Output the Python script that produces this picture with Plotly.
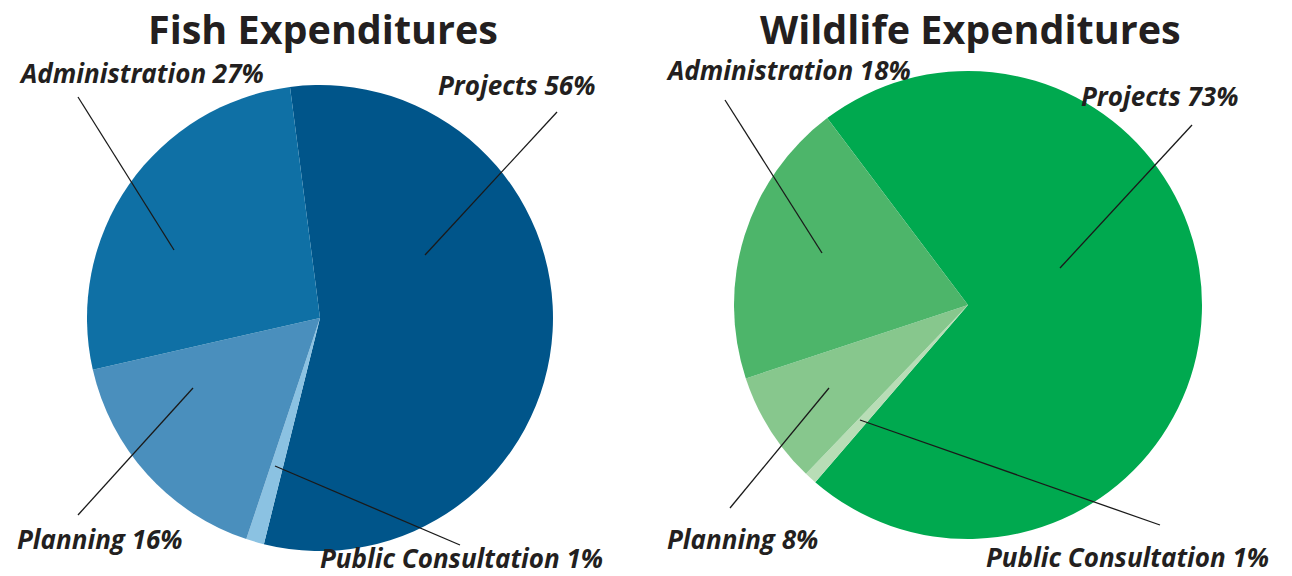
import plotly.graph_objects as go

W, H = 1292, 576

categories = ["Projects", "Public Consultation", "Planning", "Administration"]
fish_values = [55.9, 1.25, 16.3, 26.5]
wildlife_values = [71.6, 0.85, 7.75, 19.8]
fish_labels = ["Projects 56%", "Public Consultation 1%", "Planning 16%", "Administration 27%"]
wildlife_labels = ["Projects 73%", "Public Consultation 1%", "Planning 8%", "Administration 18%"]
fish_colors = ["#00558a", "#8bc2e2", "#4a8fbd", "#0f70a5"]
wildlife_colors = ["#00a94f", "#b8ddb6", "#87c78d", "#4db56a"]

def px(x):
    return x / W

def py(y):
    return 1 - y / H

fig = go.Figure()
fig.add_trace(go.Pie(
    labels=categories, values=fish_values, sort=False, direction="clockwise",
    rotation=-7.4, textinfo="none", hoverinfo="label+percent",
    marker=dict(colors=fish_colors, line=dict(width=0)),
    domain=dict(x=[px(87), px(553)], y=[py(551), py(85)]),
    showlegend=False,
))
fig.add_trace(go.Pie(
    labels=categories, values=wildlife_values, sort=False, direction="clockwise",
    rotation=-37, textinfo="none", hoverinfo="label+percent",
    marker=dict(colors=wildlife_colors, line=dict(width=0)),
    domain=dict(x=[px(734), px(1202)], y=[py(539), py(71)]),
    showlegend=False,
))

txt = "#231f20"
font_lab = dict(family="Open Sans", size=26, color=txt)
font_title = dict(family="Open Sans", size=39.5, color=txt)

annots = []
annots.append(dict(x=px(323), y=py(29), text="<b>Fish Expenditures</b>", font=font_title))
annots.append(dict(x=px(970), y=py(29), text="<b>Wildlife Expenditures</b>", font=font_title))

# label positions (pixel centres) in slice order
fish_pos = [(516, 85), (461, 558), (100, 539), (141, 73)]
wild_pos = [(1159, 96), (1127, 557), (742, 539), (789, 70)]
for lab, (x, y) in zip(fish_labels, fish_pos):
    annots.append(dict(x=px(x), y=py(y), text="<b><i>" + lab + "</i></b>", font=font_lab))
for lab, (x, y) in zip(wildlife_labels, wild_pos):
    annots.append(dict(x=px(x), y=py(y), text="<b><i>" + lab + "</i></b>", font=font_lab))
for a in annots:
    a.update(xref="paper", yref="paper", showarrow=False, xanchor="center", yanchor="middle")

# leader lines (label -> slice)
leaders = [
    ((557, 112), (425, 255)), ((460, 545), (275, 466)), ((78, 515), (193, 388)), ((78, 97), (174, 250)),
    ((1192, 125), (1060, 268)), ((1160, 525), (860, 420)), ((730, 508), (829, 388)), ((725, 100), (822, 253)),
]
shapes = [dict(type="line", xref="paper", yref="paper", x0=px(a[0]), y0=py(a[1]), x1=px(b[0]), y1=py(b[1]),
               line=dict(color="#1a1a1a", width=1.3)) for a, b in leaders]

fig.update_layout(
    width=W, height=H, margin=dict(l=0, r=0, t=0, b=0),
    paper_bgcolor="white", plot_bgcolor="white",
    annotations=annots, shapes=shapes,
)
fig.write_html("out.html")
